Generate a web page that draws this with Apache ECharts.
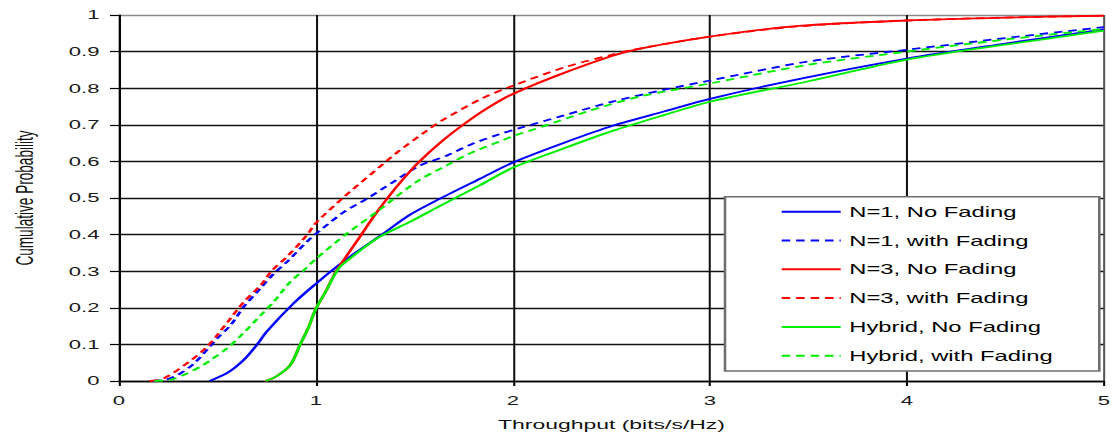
<!DOCTYPE html>
<html>
<head>
<meta charset="utf-8">
<script src="https://cdn.jsdelivr.net/npm/echarts@6/dist/echarts.min.js"></script>
<style>
html, body { margin: 0; padding: 0; background: #fff; overflow: hidden; }
#wrap { width: 1115px; height: 436px; overflow: hidden; }
#chart { width: 656px; height: 436px; transform: scaleX(1.7); transform-origin: 0 0; }
</style>
</head>
<body>
<div id="wrap"><div id="chart"></div></div>
<script>
// ---- data ----
const seriesNames = ['N=1, No Fading', 'N=1, with Fading', 'N=3, No Fading', 'N=3, with Fading', 'Hybrid, No Fading', 'Hybrid, with Fading'];

const n1NoFadeX = [0.46, 0.55, 0.634, 0.70, 0.75, 0.886, 1.00, 1.10, 1.205, 1.34, 1.47, 1.625, 1.83, 2.00, 2.26, 2.51, 2.77, 3.00, 3.45, 4.00, 4.50, 5.00];
const n1NoFadeY = [0, 0.022, 0.058, 0.099, 0.135, 0.212, 0.266, 0.310, 0.352, 0.402, 0.452, 0.497, 0.552, 0.597, 0.651, 0.698, 0.737, 0.771, 0.825, 0.881, 0.922, 0.961];

const n1FadeX = [0.17, 0.24, 0.30, 0.383, 0.50, 0.567, 0.634, 0.718, 0.785, 0.852, 0.953, 1.02, 1.14, 1.255, 1.39, 1.524, 1.66, 1.79, 1.93, 2.04, 2.26, 2.51, 2.77, 3.00, 3.50, 4.00, 4.50, 5.00];
const n1FadeY = [0, 0.004, 0.017, 0.049, 0.117, 0.153, 0.203, 0.253, 0.293, 0.325, 0.380, 0.411, 0.461, 0.497, 0.543, 0.588, 0.615, 0.647, 0.674, 0.692, 0.726, 0.764, 0.796, 0.821, 0.873, 0.905, 0.937, 0.967];

const n3NoFadeX = [0.744, 0.80, 0.87, 0.92, 0.96, 1.00, 1.05, 1.10, 1.13, 1.205, 1.29, 1.356, 1.44, 1.516, 1.63, 1.742, 1.86, 1.994, 2.28, 2.58, 3.00, 3.45, 4.00, 4.50, 5.00];
const n3NoFadeY = [0, 0.013, 0.044, 0.100, 0.144, 0.198, 0.245, 0.298, 0.322, 0.380, 0.447, 0.495, 0.550, 0.595, 0.651, 0.698, 0.742, 0.783, 0.846, 0.900, 0.941, 0.970, 0.985, 0.993, 0.998];

const n3FadeX = [0.156, 0.23, 0.357, 0.44, 0.49, 0.56, 0.634, 0.72, 0.777, 0.852, 0.953, 1.00, 1.14, 1.29, 1.42, 1.56, 1.64, 1.84, 2.00, 2.28, 2.50, 2.61, 3.00, 3.45, 4.00, 4.50, 5.00];
const n3FadeY = [0, 0.008, 0.053, 0.090, 0.120, 0.167, 0.216, 0.262, 0.302, 0.339, 0.398, 0.432, 0.502, 0.570, 0.628, 0.683, 0.712, 0.771, 0.807, 0.860, 0.891, 0.905, 0.941, 0.969, 0.985, 0.993, 0.998];

const hybNoFadeX = [0.744, 0.80, 0.87, 0.92, 0.96, 1.00, 1.05, 1.10, 1.13, 1.32, 1.474, 1.625, 1.826, 2.00, 2.26, 2.51, 2.77, 3.00, 3.50, 4.00, 4.50, 5.00];
const hybNoFadeY = [0, 0.013, 0.044, 0.100, 0.144, 0.198, 0.245, 0.295, 0.316, 0.393, 0.434, 0.477, 0.533, 0.583, 0.636, 0.684, 0.727, 0.763, 0.819, 0.878, 0.919, 0.957];

const hybFadeX = [0.18, 0.265, 0.33, 0.416, 0.467, 0.55, 0.634, 0.72, 0.785, 0.87, 0.937, 1.00, 1.155, 1.306, 1.507, 1.66, 1.79, 1.94, 2.00, 2.16, 2.38, 2.65, 3.00, 3.50, 4.00, 4.50, 5.00];
const hybFadeY = [0, 0.004, 0.017, 0.040, 0.058, 0.090, 0.132, 0.180, 0.216, 0.271, 0.302, 0.334, 0.402, 0.461, 0.543, 0.588, 0.624, 0.656, 0.669, 0.697, 0.737, 0.778, 0.813, 0.864, 0.900, 0.933, 0.962];

// ---- layout helpers (the whole figure is horizontally stretched like the reference) ----
const S = 1.7;
const FONT = '"Liberation Sans", Arial, sans-serif';
const pair = (xs, ys) => xs.map((x, i) => [x, ys[i]]);

const seriesData = [
  { x: n1NoFadeX, y: n1NoFadeY, color: '#0000ff', dash: 'solid' },
  { x: n1FadeX, y: n1FadeY, color: '#0000ff', dash: [5, 3.5] },
  { x: n3NoFadeX, y: n3NoFadeY, color: '#ff0000', dash: 'solid' },
  { x: n3FadeX, y: n3FadeY, color: '#ff0000', dash: [5, 3.5] },
  { x: hybNoFadeX, y: hybNoFadeY, color: '#00ee00', dash: 'solid' },
  { x: hybFadeX, y: hybFadeY, color: '#00ee00', dash: [5, 3.5] }
];

const chart = echarts.init(document.getElementById('chart'), null, { renderer: 'svg' });

const ySplitColors = ['#000', '#111', '#111', '#111', '#111', '#111', '#111', '#111', '#111', '#111', '#8a8a8a'];
const xSplitColors = ['#000', '#111', '#111', '#111', '#111', '#555'];

chart.setOption({
  animation: false,
  backgroundColor: '#fff',
  grid: { left: 114 / S, right: 656 - 1107 / S, top: 15, bottom: 436 - 383, containLabel: false },
  xAxis: {
    type: 'value', min: 0, max: 5, interval: 1,
    name: 'Throughput (bits/s/Hz)', nameLocation: 'middle', nameGap: 36,
    nameTextStyle: { fontFamily: FONT, fontSize: 13.5, color: '#111' },
    axisLine: { show: true, onZero: false, lineStyle: { color: '#000', width: 1.3 } },
    axisTick: { show: true, length: 5, lineStyle: { color: '#000', width: 1.2 } },
    axisLabel: { margin: 13, fontFamily: FONT, fontSize: 13, color: '#1a1a1a' },
    splitLine: { show: true, lineStyle: { color: xSplitColors, width: 1.2 } }
  },
  yAxis: {
    type: 'value', min: 0, max: 1, interval: 0.1,
    name: 'Cumulative Probability', nameLocation: 'middle', nameGap: 48, nameRotate: 90,
    nameTextStyle: { fontFamily: FONT, fontSize: 13.6, color: '#111' },
    axisLine: { show: true, lineStyle: { color: '#000', width: 1.2 } },
    axisTick: { show: true, length: 5.3, lineStyle: { color: '#000', width: 1.2 } },
    axisLabel: { margin: 11.5, fontFamily: FONT, fontSize: 13, color: '#1a1a1a' },
    splitLine: { show: true, lineStyle: { color: ySplitColors, width: 1.3 } }
  },
  graphic: [{
    type: 'rect', z: 3,
    shape: { x: 725 / S, y: 196.7, width: (1099.3 - 725) / S, height: 371 - 196.7 },
    style: { fill: '#fff', stroke: '#6e6e6e', lineWidth: 1.5 }
  }],
  legend: {
    orient: 'vertical', left: 780 / S, top: 204.7, padding: 0,
    itemWidth: 59 / S, itemHeight: 16, itemGap: 14.8, z: 4,
    itemStyle: { opacity: 0 },
    textStyle: { fontFamily: FONT, fontSize: 14, color: '#000' },
    data: seriesNames
  },
  series: seriesData.map((s, i) => ({
    name: seriesNames[i], type: 'line', data: pair(s.x, s.y),
    symbol: 'none', showSymbol: false, smooth: 0.3, z: 2,
    lineStyle: { color: s.color, width: 1.8, type: s.dash },
    itemStyle: { color: s.color }
  }))
});
</script>
</body>
</html>
